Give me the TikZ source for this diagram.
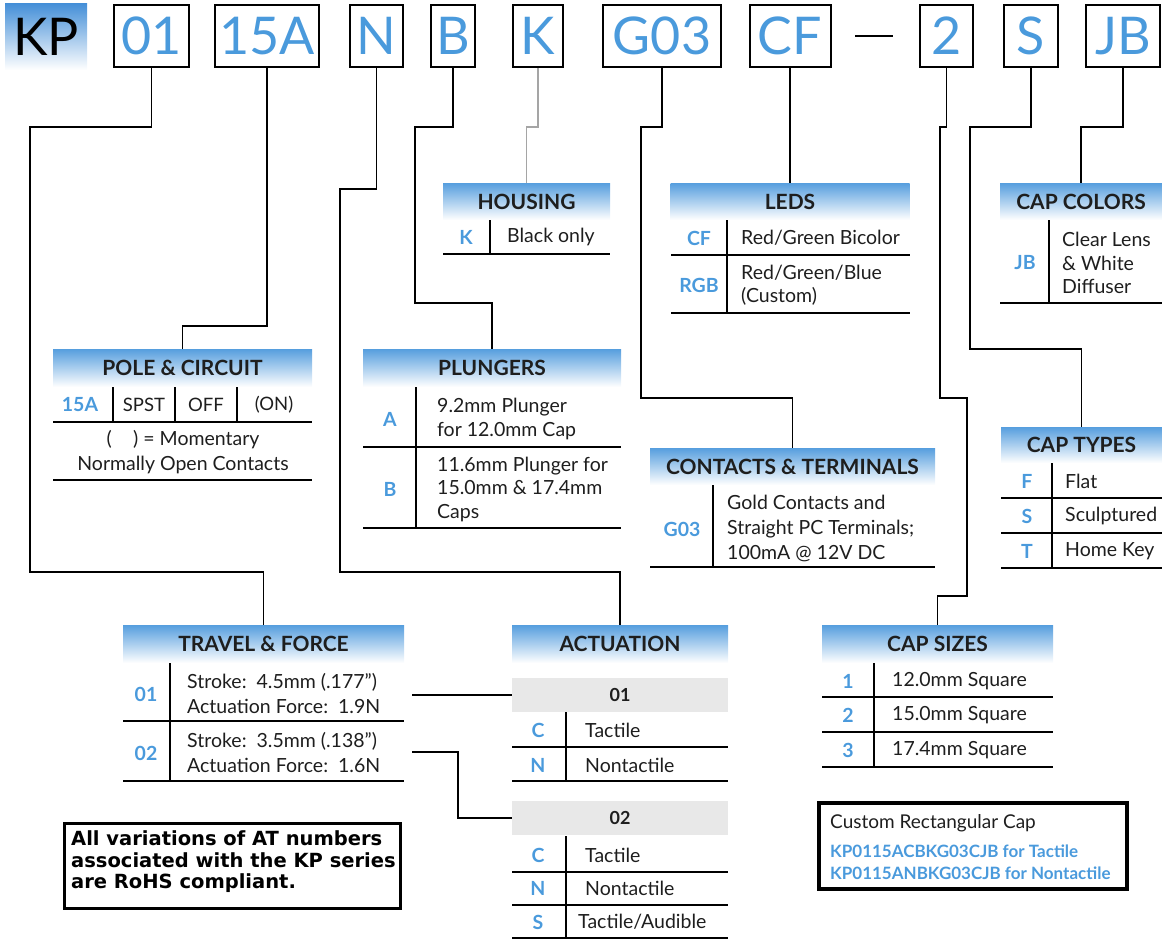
\documentclass[tikz,border=0pt]{standalone}
\usepackage{fontspec}
\setmainfont{Lato}
\newfontfamily\rohsfont{DejaVu Sans}

\definecolor{codeblue}{RGB}{74,154,220}
\definecolor{hdrblue}{RGB}{86,158,222}
\definecolor{kpblue}{RGB}{70,144,216}
\definecolor{bandgray}{RGB}{232,232,232}
\definecolor{kgray}{RGB}{165,165,165}
\definecolor{ink}{RGB}{30,30,30}

\tikzset{
  codebox/.style={draw, line width=2pt, minimum height=62pt, inner sep=0pt, text=codeblue, font=\fontsize{52}{52}\selectfont},
  hdr/.style={top color=hdrblue, bottom color=white, inner sep=0pt, text=ink, font=\bfseries\fontsize{21}{22}\selectfont},
  band/.style={fill=bandgray, inner sep=0pt, minimum height=34pt, text=ink, font=\bfseries\fontsize{18}{18}\selectfont},
  key/.style={inner sep=0pt, text=codeblue, font=\bfseries\fontsize{19.5}{20}\selectfont},
  desc/.style={anchor=west, align=left, inner sep=0pt, text=ink, font=\fontsize{19.5}{23.5}\selectfont},
  rule/.style={line width=1.6pt},
  wire/.style={line width=1.6pt},
}

\begin{document}
\begin{tikzpicture}[x=1pt,y=1pt,yscale=-1,xscale=1]
\useasboundingbox (0,0) rectangle (1162,939);

%Shape: part number boxes
\node[top color=kpblue, bottom color=white, minimum width=82pt, minimum height=66pt, inner sep=0pt, font=\fontsize{52}{52}\selectfont] (kp) at (46,37) {KP};
\node[codebox, minimum width=75pt] (c01) at (151.5,36) {01};
\node[codebox, minimum width=104pt] (c15A) at (267,36) {15A};
\node[codebox, minimum width=53pt] (cN) at (376.5,36) {N};
\node[codebox, minimum width=44pt] (cB) at (453,36) {B};
\node[codebox, minimum width=50pt] (cK) at (538,36) {K};
\node[codebox, minimum width=118pt] (cG03) at (662,36) {G03};
\node[codebox, minimum width=81pt] (cCF) at (790,36) {CF};
\draw[line width=1.6pt] (855,36) -- (893,36);
\node[codebox, minimum width=53pt] (c2) at (946.5,36) {2};
\node[codebox, minimum width=54pt] (cS) at (1031,36) {S};
\node[codebox, minimum width=74pt] (cJB) at (1123,36) {JB};

%Shape: headers
\node[hdr, minimum width=167pt, minimum height=37pt] (hHousing) at (526.5,201.5) {HOUSING};
\node[hdr, minimum width=239pt, minimum height=37pt] (hLeds) at (790,201.5) {LEDS};
\node[hdr, minimum width=162pt, minimum height=37pt] (hColors) at (1081,201.5) {CAP COLORS};
\node[hdr, minimum width=259pt, minimum height=38pt] (hPole) at (182.5,368) {POLE \& CIRCUIT};
\node[hdr, minimum width=258pt, minimum height=38pt] (hPlungers) at (492,368) {PLUNGERS};
\node[hdr, minimum width=285pt, minimum height=37pt] (hContacts) at (792.5,466.5) {CONTACTS \& TERMINALS};
\node[hdr, minimum width=161pt, minimum height=36pt] (hTypes) at (1081.5,445) {CAP TYPES};
\node[hdr, minimum width=281pt, minimum height=38pt] (hTravel) at (263.5,644) {TRAVEL \& FORCE};
\node[hdr, minimum width=216pt, minimum height=38pt] (hAct) at (620,644) {ACTUATION};
\node[hdr, minimum width=231pt, minimum height=38pt] (hSizes) at (937.5,644) {CAP SIZES};

%Straight Lines: leaders
\draw[wire] (c01.south) -- ++(0,59) -| (30,572) -| (hTravel.north);
\draw[wire] (c15A.south) -- ++(0,258) -| (hPole.north);
\draw[wire] (cN.south) -- ++(0,121) -| (340,572) -| (hAct.north);
\draw[wire] (cB.south) -- ++(0,59) -| (415,303) -| (hPlungers.north);
\draw[wire, draw=kgray] (cK.south) -- ++(0,59) -| (hHousing.north);
\draw[wire] (cG03.south) -- ++(0,59) -| (641,398) -| (hContacts.north);
\draw[wire] (cCF.south) -- (hLeds.north);
\draw[wire] (c2.south) -- ++(0,59) -| (940,398) -| (967,596) -| (hSizes.north);
\draw[wire] (cS.south) -- ++(0,59) -| (970,349) -| (hTypes.north);
\draw[wire] (cJB.south) -- ++(0,59) -| (hColors.north);

%Housing table
\draw[rule] (490,220) -- (490,254);
\draw[rule] (443,254) -- (610,254);
% Text Node
\node[key] (kK) at (466,237) {K};
\node[desc] (tK) at (507,237) {Black only};

%LEDs table
\draw[rule] (727,220) -- (727,313);
\draw[rule] (671,255) -- (910,255);
\draw[rule] (671,313) -- (910,313);
% Text Node
\node[key] (kCF) at (699,238) {CF};
\node[desc] (tCF) at (741,238) {Red/Green Bicolor};
\node[key] (kRGB) at (699,285) {RGB};
\node[desc] (tRGB) at (741,285) {Red/Green/Blue\\(Custom)};

%Cap colors table
\draw[rule] (1049,220) -- (1049,303);
\draw[rule] (1000,303) -- (1162,303);
% Text Node
\node[key] (kJB) at (1025,263) {JB};
\node[desc] (tJB) at (1062,263) {Clear Lens\\\& White\\Diffuser};

%Pole and circuit table
\draw[rule] (113,387) -- (113,422);
\draw[rule] (175,387) -- (175,422);
\draw[rule] (237,387) -- (237,422);
\draw[rule] (53,422) -- (312,422);
\draw[rule] (53,480) -- (312,480);
% Text Node
\node[key] (k15A) at (80,405) {15A};
\node[desc, anchor=center, font=\fontsize{18.5}{19}\selectfont] (tSPST) at (144,405) {SPST};
\node[desc, anchor=center, font=\fontsize{18.5}{19}\selectfont] (tOFF) at (206,405) {OFF};
\node[desc, anchor=center, font=\fontsize{18.5}{19}\selectfont] (tON) at (274,405) {(ON)};
\node[desc, anchor=center, align=center, font=\fontsize{19.5}{25}\selectfont] (tMom) at (183,452) {(\hspace{1.1em}) = Momentary\\Normally Open Contacts};

%Plungers table
\draw[rule] (416,387) -- (416,528);
\draw[rule] (363,447) -- (621,447);
\draw[rule] (363,528) -- (621,528);
% Text Node
\node[key] (kA) at (390,419) {A};
\node[desc] (tA) at (437,419) {9.2mm Plunger\\for 12.0mm Cap};
\node[key] (kB) at (390,489) {B};
\node[desc] (tB) at (437,489) {11.6mm Plunger for\\15.0mm \& 17.4mm\\Caps};

%Contacts table
\draw[rule] (713,485) -- (713,567);
\draw[rule] (650,567) -- (935,567);
% Text Node
\node[key] (kG03) at (682,529) {G03};
\node[desc, font=\fontsize{19.5}{25}\selectfont] (tG03) at (727,528) {Gold Contacts and\\Straight PC Terminals;\\100mA @ 12V DC};

%Cap types table
\draw[rule] (1052,463) -- (1052,568);
\draw[rule] (1001,498) -- (1162,498);
\draw[rule] (1001,533) -- (1162,533);
\draw[rule] (1001,568) -- (1162,568);
% Text Node
\node[key] (kF) at (1027,481) {F};
\node[desc] (tF) at (1065,481) {Flat};
\node[key] (kS) at (1027,516) {S};
\node[desc] (tS) at (1065,516) {Sculptured};
\node[key] (kT) at (1027,551) {T};
\node[desc] (tT) at (1065,551) {Home Key};

%Travel and force table
\draw[rule] (170,663) -- (170,781);
\draw[rule] (123,721) -- (404,721);
\draw[rule] (123,781) -- (404,781);
% Text Node
\node[key] (k01) at (146,694) {01};
\node[desc, font=\fontsize{19.5}{25}\selectfont] (t01) at (187,694) {Stroke:\ \ 4.5mm (.177'')\\Actuation Force:\ \ 1.9N};
\node[key] (k02) at (146,753) {02};
\node[desc, font=\fontsize{19.5}{25}\selectfont] (t02) at (187,753) {Stroke:\ \ 3.5mm (.138'')\\Actuation Force:\ \ 1.6N};

%Actuation table
\node[band, minimum width=216pt] (act01) at (620,695) {01};
\draw[rule] (566,712) -- (566,781);
\draw[rule] (512,747) -- (728,747);
\draw[rule] (512,781) -- (728,781);
\node[band, minimum width=216pt] (act02) at (620,818) {02};
\draw[rule] (566,836) -- (566,939);
\draw[rule] (512,872) -- (728,872);
\draw[rule] (512,905) -- (728,905);
\draw[rule] (512,938) -- (728,938);
% Text Node
\node[key] (kC1) at (538,730) {C};
\node[desc] (tC1) at (585,730) {Tactile};
\node[key] (kN1) at (538,765) {N};
\node[desc] (tN1) at (585,765) {Nontactile};
\node[key] (kC2) at (538,855) {C};
\node[desc] (tC2) at (585,855) {Tactile};
\node[key] (kN2) at (538,888) {N};
\node[desc] (tN2) at (585,888) {Nontactile};
\node[key] (kS2) at (538,922) {S};
\node[desc] (tS2) at (578,922) {Tactile/Audible};

%Straight Lines: travel to actuation
\coordinate (tf01) at (412,695);
\coordinate (tf02) at (412,752);
\draw[wire] (tf01) -- (act01.west);
\draw[wire] (tf02) -| (458,818) -- (act02.west);

%Cap sizes table
\draw[rule] (874,663) -- (874,767);
\draw[rule] (822,697) -- (1053,697);
\draw[rule] (822,732) -- (1053,732);
\draw[rule] (822,767) -- (1053,767);
% Text Node
\node[key] (k1) at (848,681) {1};
\node[desc] (t1) at (892,681) {12.0mm Square};
\node[key] (k2) at (848,715) {2};
\node[desc] (t2) at (892,715) {15.0mm Square};
\node[key] (k3) at (848,750) {3};
\node[desc] (t3) at (892,750) {17.4mm Square};

%Shape: custom cap note
\draw[line width=3.5pt] (819,803) rectangle (1127,889);
\node[desc, font=\fontsize{19}{20}\selectfont] (tCustom) at (830,823) {Custom Rectangular Cap};
\node[desc, text=codeblue, font=\bfseries\fontsize{17}{22}\selectfont] (tCustomPN) at (830,862) {KP0115ACBKG03CJB for Tactile\\KP0115ANBKG03CJB for Nontactile};

%Shape: RoHS note
\draw[line width=3pt] (64,823) rectangle (400,908);
\node[desc, text=black, font=\rohsfont\bfseries\fontsize{19.5}{21.5}\selectfont] (tRohs) at (71,862) {All variations of AT numbers\\associated with the KP series\\are RoHS compliant.};

\end{tikzpicture}
\end{document}
